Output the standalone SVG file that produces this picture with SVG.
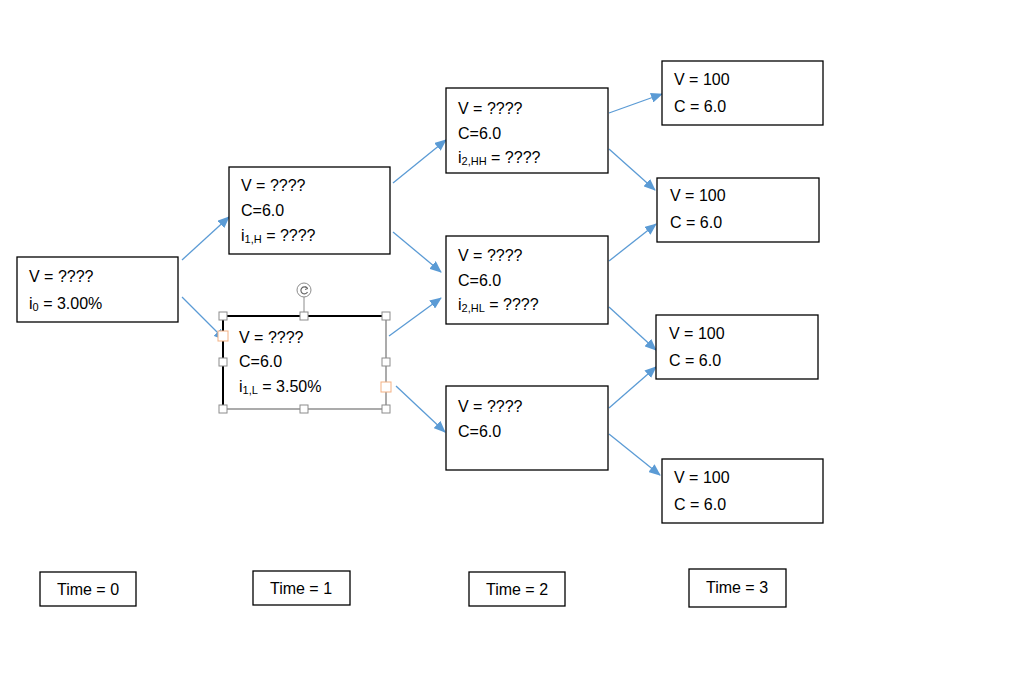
<svg xmlns="http://www.w3.org/2000/svg" width="1024" height="681" viewBox="0 0 1024 681">
<style>
.box{fill:#fff;stroke:#000;stroke-width:1.3}
.t{font-family:"Liberation Sans",Arial,sans-serif;font-size:16px;fill:#000}
.s{font-size:11px}
.c{stroke:#5B9BD5;stroke-width:1.3;fill:none}
.h{fill:#fff;stroke:#8c8c8c;stroke-width:1}
.o{fill:#fff;stroke:#f4b183;stroke-width:1}
</style>
<defs>
<marker id="ah" markerWidth="12" markerHeight="10" refX="11" refY="5" orient="auto" markerUnits="userSpaceOnUse">
<path d="M0,0 L12,5 L0,10 z" fill="#5B9BD5"/>
</marker>
</defs>
<rect width="1024" height="681" fill="#fff"/>
<g id="connectors">
<line class="c" x1="182" y1="260" x2="229" y2="217" marker-end="url(#ah)"/>
<line class="c" x1="182" y1="297" x2="225" y2="340" marker-end="url(#ah)"/>
<line class="c" x1="393" y1="183" x2="446" y2="140" marker-end="url(#ah)"/>
<line class="c" x1="393" y1="232" x2="441" y2="272" marker-end="url(#ah)"/>
<line class="c" x1="389" y1="336" x2="441" y2="298" marker-end="url(#ah)"/>
<line class="c" x1="396" y1="386" x2="445" y2="432" marker-end="url(#ah)"/>
<line class="c" x1="609" y1="113" x2="662" y2="94" marker-end="url(#ah)"/>
<line class="c" x1="609" y1="149" x2="655" y2="190" marker-end="url(#ah)"/>
<line class="c" x1="609" y1="261" x2="656" y2="224" marker-end="url(#ah)"/>
<line class="c" x1="609" y1="307" x2="656" y2="350" marker-end="url(#ah)"/>
<line class="c" x1="609" y1="408" x2="656" y2="367" marker-end="url(#ah)"/>
<line class="c" x1="609" y1="434" x2="660" y2="475" marker-end="url(#ah)"/>
</g>
<g id="n0">
<rect class="box" x="17" y="257" width="161" height="65"/>
<text class="t" x="29" y="282">V = ????</text>
<text class="t" x="29" y="309">i<tspan class="s" dy="2">0</tspan><tspan dy="-2"> = 3.00%</tspan></text>
</g>
<g id="n1H">
<rect class="box" x="229" y="167" width="161" height="87"/>
<text class="t" x="241" y="191">V = ????</text>
<text class="t" x="241" y="216">C=6.0</text>
<text class="t" x="241" y="241">i<tspan class="s" dy="2">1,H</tspan><tspan dy="-2"> = ????</tspan></text>
</g>
<g id="n1L">
<rect x="223" y="316" width="163" height="93" fill="#fff" stroke="#7f7f7f" stroke-width="1.3"/>
<path d="M223,409 L223,316 L386,316" fill="none" stroke="#000" stroke-width="2"/>
<text class="t" x="239" y="343">V = ????</text>
<text class="t" x="239" y="367">C=6.0</text>
<text class="t" x="239" y="392">i<tspan class="s" dy="2">1,L</tspan><tspan dy="-2"> = 3.50%</tspan></text>
<line x1="304" y1="296" x2="304" y2="316" stroke="#8c8c8c" stroke-width="1"/>
<circle cx="304" cy="290" r="7" fill="#fff" stroke="#8c8c8c" stroke-width="1"/>
<path d="M307,288 A3.5,3.5 0 1 0 307.5,292" fill="none" stroke="#666" stroke-width="1.2"/>
<path d="M305.5,286.5 L308,288.5 L305,289.5" fill="none" stroke="#666" stroke-width="1"/>
<rect class="h" x="219" y="312" width="8" height="8"/>
<rect class="h" x="300" y="312" width="8" height="8"/>
<rect class="h" x="382" y="312" width="8" height="8"/>
<rect class="h" x="219" y="358" width="8" height="8"/>
<rect class="h" x="382" y="358" width="8" height="8"/>
<rect class="h" x="219" y="405" width="8" height="8"/>
<rect class="h" x="300" y="405" width="8" height="8"/>
<rect class="h" x="382" y="405" width="8" height="8"/>
<rect class="o" x="218" y="331" width="10" height="10"/>
<rect class="o" x="381" y="382" width="10" height="10"/>
</g>
<g id="n2HH">
<rect class="box" x="446" y="88" width="162" height="85"/>
<text class="t" x="458" y="114">V = ????</text>
<text class="t" x="458" y="139">C=6.0</text>
<text class="t" x="458" y="163">i<tspan class="s" dy="2">2,HH</tspan><tspan dy="-2"> = ????</tspan></text>
</g>
<g id="n2HL">
<rect class="box" x="446" y="236" width="162" height="88"/>
<text class="t" x="458" y="261">V = ????</text>
<text class="t" x="458" y="286">C=6.0</text>
<text class="t" x="458" y="310">i<tspan class="s" dy="2">2,HL</tspan><tspan dy="-2"> = ????</tspan></text>
</g>
<g id="n2LL">
<rect class="box" x="446" y="386" width="162" height="84"/>
<text class="t" x="458" y="412">V = ????</text>
<text class="t" x="458" y="437">C=6.0</text>
</g>
<g id="n3a">
<rect class="box" x="662" y="61" width="161" height="64"/>
<text class="t" x="674" y="85">V = 100</text>
<text class="t" x="674" y="112">C = 6.0</text>
</g>
<g id="n3b">
<rect class="box" x="657" y="178" width="162" height="64"/>
<text class="t" x="670" y="201">V = 100</text>
<text class="t" x="670" y="228">C = 6.0</text>
</g>
<g id="n3c">
<rect class="box" x="656" y="315" width="162" height="64"/>
<text class="t" x="669" y="339">V = 100</text>
<text class="t" x="669" y="366">C = 6.0</text>
</g>
<g id="n3d">
<rect class="box" x="662" y="459" width="161" height="64"/>
<text class="t" x="674" y="483">V = 100</text>
<text class="t" x="674" y="510">C = 6.0</text>
</g>
<g id="time0">
<rect class="box" x="40" y="572" width="96" height="34"/>
<text class="t" x="88" y="595" text-anchor="middle">Time = 0</text>
</g>
<g id="time1">
<rect class="box" x="253" y="571" width="97" height="34"/>
<text class="t" x="301" y="594" text-anchor="middle">Time = 1</text>
</g>
<g id="time2">
<rect class="box" x="469" y="572" width="96" height="34"/>
<text class="t" x="517" y="595" text-anchor="middle">Time = 2</text>
</g>
<g id="time3">
<rect class="box" x="689" y="569" width="97" height="38"/>
<text class="t" x="737" y="593" text-anchor="middle">Time = 3</text>
</g>
</svg>
